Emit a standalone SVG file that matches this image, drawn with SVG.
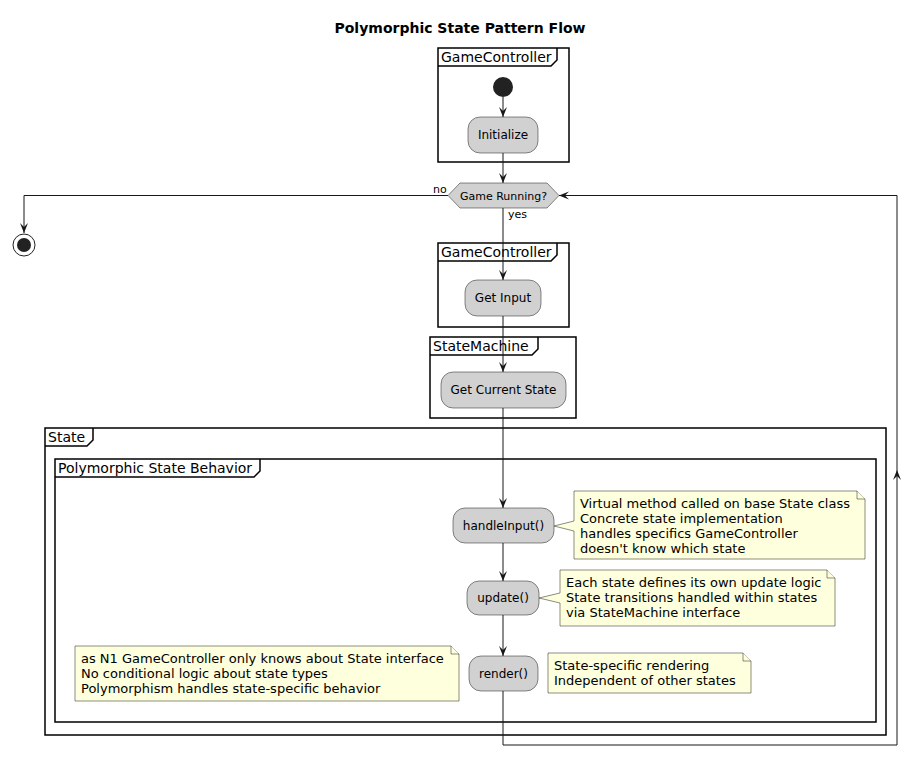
<svg xmlns="http://www.w3.org/2000/svg" width="922" height="768" viewBox="0 0 922 768">
<style>
text{font-family:"DejaVu Sans",sans-serif;fill:#000}
.title{font-size:14px;font-weight:bold}
.frame{fill:none;stroke:#000;stroke-width:1.5}
.tab{fill:none;stroke:#000;stroke-width:1.5}
.ft{font-size:14px}
.act{fill:#D1D1D1;stroke:#181818;stroke-width:0.5}
.at{font-size:12px;text-anchor:middle}
.note{fill:#FEFFDD;stroke:#181818;stroke-width:0.5}
.nt{font-size:13px}
.lbl{font-size:11px}
.edge{fill:none;stroke:#181818;stroke-width:1}
</style>
<defs>
<marker id="ah" viewBox="0 0 10 10" refX="10" refY="5" markerWidth="10" markerHeight="10" markerUnits="userSpaceOnUse" orient="auto">
<path d="M10,5 L0,1 L4,5 L0,9 Z" fill="#181818"/>
</marker>
</defs>
<rect width="922" height="768" fill="#fff"/>
<text class="title" x="460" y="33" text-anchor="middle">Polymorphic State Pattern Flow</text>

<g id="frame-gc1">
<rect class="frame" x="438" y="48" width="131" height="114"/>
<path class="tab" d="M438,66 L551,66 L557,60 L557,48"/>
<text class="ft" x="441" y="62">GameController</text>
</g>
<g id="frame-gc2">
<rect class="frame" x="438" y="243" width="131" height="84"/>
<path class="tab" d="M438,261 L551,261 L557,255 L557,243"/>
<text class="ft" x="441" y="257">GameController</text>
</g>
<g id="frame-sm">
<rect class="frame" x="430" y="337" width="146" height="81"/>
<path class="tab" d="M430,355 L532,355 L538,349 L538,337"/>
<text class="ft" x="433" y="351">StateMachine</text>
</g>
<g id="frame-state">
<rect class="frame" x="45" y="428" width="841" height="307"/>
<path class="tab" d="M45,446 L87,446 L93,440 L93,428"/>
<text class="ft" x="48" y="442">State</text>
</g>
<g id="frame-poly">
<rect class="frame" x="55" y="459" width="821" height="263"/>
<path class="tab" d="M55,477 L254,477 L260,471 L260,459"/>
<text class="ft" x="58" y="473">Polymorphic State Behavior</text>
</g>

<g id="connectors">
<line class="edge" x1="503" y1="97" x2="503" y2="117" marker-end="url(#ah)"/>
<line class="edge" x1="503" y1="153" x2="503" y2="183" marker-end="url(#ah)"/>
<polyline class="edge" points="448,195.5 24,195.5 24,233" marker-end="url(#ah)"/>
<text class="lbl" x="433" y="193">no</text>
<line class="edge" x1="503" y1="208" x2="503" y2="280" marker-end="url(#ah)"/>
<text class="lbl" x="508" y="218">yes</text>
<line class="edge" x1="503" y1="316" x2="503" y2="372" marker-end="url(#ah)"/>
<line class="edge" x1="503" y1="408" x2="503" y2="508" marker-end="url(#ah)"/>
<line class="edge" x1="503" y1="543" x2="503" y2="581" marker-end="url(#ah)"/>
<line class="edge" x1="503" y1="615" x2="503" y2="656" marker-end="url(#ah)"/>
<polyline class="edge" points="503,691 503,745 897,745 897,195.5 559,195.5" marker-end="url(#ah)"/>
<path d="M897,470 L893,480 L897,476 L901,480 Z" fill="#181818"/>
</g>

<g id="start"><circle cx="503" cy="87" r="10" fill="#222"/></g>
<g id="initialize">
<rect class="act" x="468" y="117" width="70" height="36" rx="12"/>
<text class="at" x="503" y="139">Initialize</text>
</g>
<g id="decision">
<polygon class="act" points="448,195.5 460,183 547,183 559,195.5 547,208 460,208"/>
<text class="lbl" x="503.5" y="199.5" text-anchor="middle">Game Running?</text>
</g>
<g id="end">
<circle cx="24" cy="245" r="11" fill="#fff" stroke="#222" stroke-width="1"/>
<circle cx="24" cy="245" r="7" fill="#222"/>
</g>
<g id="get-input">
<rect class="act" x="465" y="280" width="76" height="36" rx="12"/>
<text class="at" x="503" y="302">Get Input</text>
</g>
<g id="get-current-state">
<rect class="act" x="441" y="372" width="125" height="36" rx="12"/>
<text class="at" x="503.5" y="394">Get Current State</text>
</g>
<g id="handle-input">
<rect class="act" x="453" y="508" width="101" height="35" rx="12"/>
<text class="at" x="503.5" y="530">handleInput()</text>
</g>
<g id="update">
<rect class="act" x="467" y="581" width="72" height="34" rx="12"/>
<text class="at" x="503" y="602">update()</text>
</g>
<g id="render">
<rect class="act" x="469" y="656" width="69" height="35" rx="12"/>
<text class="at" x="503.5" y="678">render()</text>
</g>

<g id="note-handle">
<path class="note" d="M574,491 L857,491 L865,499 L865,559 L574,559 L574,531 L554,526 L574,521 Z"/>
<path class="note" d="M857,491 L857,499 L865,499" fill="none"/>
<text class="nt" x="580" y="508">Virtual method called on base State class</text>
<text class="nt" x="580" y="523">Concrete state implementation</text>
<text class="nt" x="580" y="538">handles specifics GameController</text>
<text class="nt" x="580" y="553">doesn't know which state</text>
</g>
<g id="note-update">
<path class="note" d="M560,570 L827,570 L835,578 L835,626 L560,626 L560,603 L539,598 L560,593 Z"/>
<path class="note" d="M827,570 L827,578 L835,578" fill="none"/>
<text class="nt" x="566" y="587">Each state defines its own update logic</text>
<text class="nt" x="566" y="602">State transitions handled within states</text>
<text class="nt" x="566" y="617">via StateMachine interface</text>
</g>
<g id="note-render">
<path class="note" d="M548,653 L743,653 L751,661 L751,693 L548,693 Z"/>
<path class="note" d="M743,653 L743,661 L751,661" fill="none"/>
<text class="nt" x="554" y="670">State-specific rendering</text>
<text class="nt" x="554" y="685">Independent of other states</text>
</g>
<g id="note-n1">
<path class="note" d="M75,646 L451,646 L459,654 L459,701 L75,701 Z"/>
<path class="note" d="M451,646 L451,654 L459,654" fill="none"/>
<text class="nt" x="81" y="663">as N1 GameController only knows about State interface</text>
<text class="nt" x="81" y="678">No conditional logic about state types</text>
<text class="nt" x="81" y="693">Polymorphism handles state-specific behavior</text>
</g>
</svg>
